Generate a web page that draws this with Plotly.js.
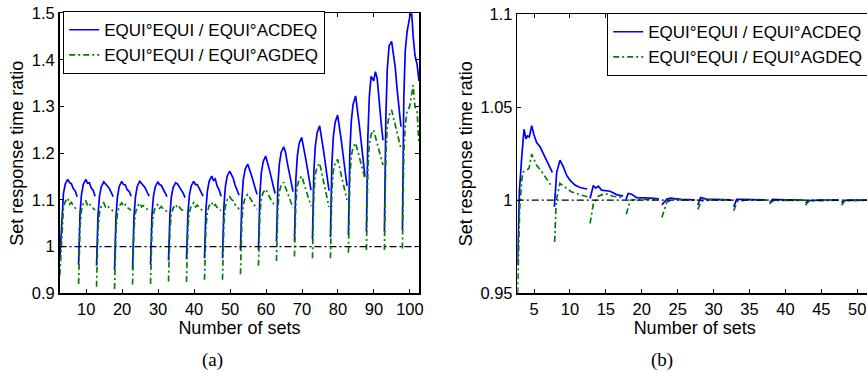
<!DOCTYPE html>
<html>
<head>
<meta charset="utf-8">
<script src="https://cdn.plot.ly/plotly-3.0.1.min.js"></script>
<style>
html,body{margin:0;padding:0;overflow:hidden;background:#fff;}
#chart{width:873px;height:373px;}
</style>
</head>
<body>
<div id="chart"></div>
<script>
// ---------- Panel (a): response time ratio vs number of sets ----------
const setsA = [
  2.7, 3.05, 3.3, 3.7, 4.2, 4.9, 5.4, 5.9, 6.4, 7.0, 7.5, null,
  7.9, 8.05, 8.3, 8.7, 9.2, 9.9, 10.4, 10.9, 11.4, 12.0, 12.5, null,
  12.9, 13.05, 13.3, 13.7, 14.2, 14.9, 15.4, 15.9, 16.4, 17.0, 17.5, null,
  17.9, 18.05, 18.3, 18.7, 19.2, 19.9, 20.4, 20.9, 21.4, 22.0, 22.5, null,
  22.9, 23.05, 23.3, 23.7, 24.2, 24.9, 25.4, 25.9, 26.4, 27.0, 27.5, null,
  27.9, 28.05, 28.3, 28.7, 29.2, 29.9, 30.4, 30.9, 31.4, 32.0, 32.5, null,
  32.9, 33.05, 33.3, 33.7, 34.2, 34.9, 35.4, 35.9, 36.4, 37.0, 37.5, null,
  37.9, 38.05, 38.3, 38.7, 39.2, 39.9, 40.4, 40.9, 41.4, 42.0, 42.5, null,
  42.9, 43.05, 43.3, 43.7, 44.2, 44.9, 45.4, 45.9, 46.4, 47.0, 47.5, null,
  47.9, 48.05, 48.3, 48.7, 49.2, 49.9, 50.4, 50.9, 51.4, 52.0, 52.5, null,
  52.9, 53.05, 53.3, 53.7, 54.2, 54.9, 55.4, 55.9, 56.4, 57.0, 57.5, null,
  57.9, 58.05, 58.3, 58.7, 59.2, 59.9, 60.4, 60.9, 61.4, 62.0, 62.5, null,
  62.9, 63.05, 63.3, 63.7, 64.2, 64.9, 65.4, 65.9, 66.4, 67.0, 67.5, null,
  67.9, 68.05, 68.3, 68.7, 69.2, 69.9, 70.4, 70.9, 71.4, 72.0, 72.5, null,
  72.9, 73.05, 73.3, 73.7, 74.2, 74.9, 75.4, 75.9, 76.4, 77.0, 77.5, null,
  77.9, 78.05, 78.3, 78.7, 79.2, 79.9, 80.4, 80.9, 81.4, 82.0, 82.5, null,
  82.9, 83.05, 83.3, 83.7, 84.2, 84.9, 85.4, 85.9, 86.4, 87.0, 87.5, null,
  87.9, 88.05, 88.3, 88.7, 89.2, 89.9, 90.4, 90.9, 91.4, 92.0, 92.5, null,
  92.9, 93.05, 93.3, 93.7, 94.2, 94.9, 95.4, 95.9, 96.4, 97.0, 97.5, null,
  97.9, 98.05, 98.3, 98.7, 99.2, 99.9, 100.4, 100.9, 101.4, 102.0, 102.5
];
const acdeqA = [
  0.975, 1.026, 1.076, 1.114, 1.134, 1.144, 1.137, 1.135, 1.125, 1.119, 1.107, null,
  0.961, 1.016, 1.071, 1.111, 1.133, 1.144, 1.136, 1.137, 1.126, 1.120, 1.108, null,
  0.959, 1.013, 1.067, 1.107, 1.128, 1.139, 1.134, 1.129, 1.125, 1.116, 1.107, null,
  0.950, 1.007, 1.064, 1.106, 1.129, 1.140, 1.133, 1.132, 1.122, 1.118, 1.108, null,
  0.951, 1.008, 1.064, 1.106, 1.129, 1.140, 1.135, 1.129, 1.126, 1.116, 1.108, null,
  0.961, 1.014, 1.068, 1.107, 1.128, 1.139, 1.133, 1.131, 1.123, 1.117, 1.107, null,
  0.970, 1.020, 1.070, 1.107, 1.127, 1.137, 1.134, 1.128, 1.122, 1.114, 1.105, null,
  0.973, 1.023, 1.073, 1.110, 1.130, 1.140, 1.133, 1.133, 1.124, 1.117, 1.108, null,
  0.975, 1.028, 1.081, 1.119, 1.140, 1.151, 1.142, 1.145, 1.130, 1.121, 1.108, null,
  0.975, 1.031, 1.087, 1.128, 1.151, 1.162, 1.155, 1.146, 1.132, 1.122, 1.110, null,
  0.993, 1.048, 1.103, 1.144, 1.166, 1.177, 1.167, 1.154, 1.141, 1.126, 1.112, null,
  0.993, 1.053, 1.114, 1.158, 1.182, 1.194, 1.182, 1.166, 1.150, 1.132, 1.114, null,
  1.011, 1.072, 1.133, 1.177, 1.202, 1.214, 1.203, 1.180, 1.161, 1.139, 1.118, null,
  1.011, 1.078, 1.145, 1.194, 1.221, 1.234, 1.217, 1.194, 1.172, 1.146, 1.121, null,
  1.016, 1.089, 1.162, 1.215, 1.244, 1.259, 1.238, 1.210, 1.183, 1.151, 1.120, null,
  1.020, 1.099, 1.177, 1.235, 1.266, 1.282, 1.259, 1.229, 1.198, 1.163, 1.130, null,
  1.025, 1.114, 1.204, 1.269, 1.305, 1.323, 1.297, 1.262, 1.228, 1.188, 1.150, null,
  1.032, 1.135, 1.235, 1.320, 1.365, 1.355, 1.375, 1.360, 1.310, 1.265, 1.228, null,
  1.032, 1.155, 1.275, 1.380, 1.430, 1.440, 1.410, 1.385, 1.340, 1.290, 1.257, null,
  1.036, 1.180, 1.320, 1.420, 1.460, 1.490, 1.510, 1.450, 1.410, 1.390, 1.355
];
const agdeqA = [
  0.939, 0.997, 1.051, 1.084, 1.097, 1.104, 1.091, 1.095, 1.088, 1.083, 1.078, null,
  0.920, 0.983, 1.042, 1.078, 1.092, 1.099, 1.088, 1.092, 1.086, 1.082, 1.078, null,
  0.914, 0.977, 1.036, 1.072, 1.087, 1.094, 1.085, 1.088, 1.083, 1.080, 1.076, null,
  0.909, 0.974, 1.035, 1.072, 1.087, 1.094, 1.086, 1.090, 1.084, 1.081, 1.078, null,
  0.919, 0.980, 1.037, 1.072, 1.086, 1.093, 1.085, 1.088, 1.083, 1.080, 1.076, null,
  0.920, 0.980, 1.036, 1.070, 1.083, 1.090, 1.082, 1.086, 1.081, 1.078, 1.075, null,
  0.925, 0.983, 1.037, 1.070, 1.083, 1.090, 1.082, 1.085, 1.080, 1.077, 1.074, null,
  0.924, 0.984, 1.040, 1.074, 1.087, 1.094, 1.085, 1.089, 1.083, 1.080, 1.076, null,
  0.929, 0.987, 1.042, 1.075, 1.088, 1.095, 1.086, 1.090, 1.084, 1.080, 1.077, null,
  0.929, 0.991, 1.050, 1.086, 1.100, 1.107, 1.101, 1.098, 1.090, 1.086, 1.080, null,
  0.941, 1.001, 1.057, 1.091, 1.105, 1.112, 1.106, 1.099, 1.093, 1.086, 1.080, null,
  0.959, 1.016, 1.071, 1.103, 1.116, 1.123, 1.115, 1.108, 1.100, 1.093, 1.085, null,
  0.969, 1.028, 1.084, 1.118, 1.131, 1.138, 1.127, 1.116, 1.105, 1.094, 1.083, null,
  0.979, 1.039, 1.096, 1.130, 1.144, 1.151, 1.138, 1.125, 1.113, 1.100, 1.087, null,
  0.975, 1.046, 1.114, 1.155, 1.171, 1.179, 1.160, 1.141, 1.123, 1.104, 1.085, null,
  0.975, 1.049, 1.119, 1.162, 1.179, 1.187, 1.170, 1.152, 1.135, 1.117, 1.100, null,
  0.987, 1.069, 1.147, 1.194, 1.213, 1.222, 1.207, 1.192, 1.176, 1.161, 1.146, null,
  0.993, 1.083, 1.168, 1.219, 1.240, 1.250, 1.235, 1.220, 1.205, 1.190, 1.175, null,
  0.993, 1.098, 1.197, 1.257, 1.281, 1.293, 1.276, 1.260, 1.243, 1.227, 1.210, null,
  0.996, 1.100, 1.200, 1.260, 1.290, 1.300, 1.320, 1.346, 1.300, 1.290, 1.220
];
const refXA = [2.6, 102.6];
const refYA = [1, 1];

// ---------- Panel (b) ----------
const setsB1 = [
  2.7, 2.97, 3.29, 3.61, 3.89, 4.1, 4.35, 4.68, 5.0, 5.37, 5.84, 6.3, 6.77, 7.23, 7.55, null,
  7.83, 8.16, 8.62, 9.08, 9.55, 10.0, 10.7, 11.4, 12.4, null,
  12.8, 13.26, 13.6, 13.96, 14.4, 15.6, 16.5, 17.4, null,
  17.8, 18.1, 18.6, 19.3, 21.2, 22.4, null,
  22.8, 23.5, 24.0, 25.5, 27.4, null,
  27.8, 28.2, 29.0, 31.0, 32.4, null,
  32.8, 33.2, 34.0, 36.0, 37.4, null,
  37.8, 38.2, 40.0, 42.4, null,
  42.8, 43.2, 45.0, 47.4, null,
  47.8, 48.2, 50.0, 52.0
];
const acdeqB = [
  0.965, 1.005, 1.023, 1.038, 1.033, 1.0345, 1.034, 1.040, 1.035, 1.031, 1.0287, 1.025, 1.0204, 1.0168, 1.015, null,
  0.9964, 1.015, 1.0215, 1.0179, 1.0133, 1.0108, 1.0081, 1.0068, 1.006, null,
  1.0009, 1.0079, 1.0065, 1.0075, 1.0054, 1.0048, 1.003, 1.0022, null,
  1.0004, 1.0036, 1.0032, 1.0014, 1.0011, 1.0007, null,
  0.9975, 1.0007, 1.0011, 1.0004, 1.0002, null,
  0.9973, 1.0014, 1.0006, 1.0003, 1.0002, null,
  0.9964, 1.0004, 1.0004, 1.0002, 1.0001, null,
  0.9986, 1.0004, 1.0002, 1.0001, null,
  0.9986, 0.9998, 1.0001, 1.0001, null,
  0.9986, 0.9999, 1.0000, 1.0000
];
const setsB2 = [
  2.72, 3.0, 3.3, 3.5, 3.9, 4.3, 4.68, 5.0, 5.37, 6.1, 6.77, 7.5, null,
  7.87, 8.1, 8.6, 9.3, 10.2, 11.6, 12.5, null,
  12.8, 13.26, 13.96, 14.9, 16.0, 17.4, null,
  17.85, 18.4, 19.3, 22.4, null,
  22.8, 23.5, 24.4, 27.4, null,
  27.8, 28.3, 29.5, 32.4, null,
  32.8, 33.3, 34.5, 37.4, null,
  37.8, 38.3, 42.4, null,
  42.8, 43.3, 47.4, null,
  47.8, 48.3, 52.0
];
const agdeqB = [
  0.950, 0.995, 1.0108, 1.0152, 1.016, 1.017, 1.0247, 1.0215, 1.0188, 1.0152, 1.0111, 1.0072, null,
  0.9776, 1.000, 1.009, 1.0072, 1.0045, 1.0027, 1.0018, null,
  0.9875, 0.998, 1.0021, 1.0036, 1.0021, 1.0014, null,
  0.9925, 1.000, 1.0004, 1.0004, null,
  0.9907, 0.9991, 1.0004, 1.000, null,
  0.995, 0.9995, 1.0002, 1.000, null,
  0.9943, 0.9993, 1.0001, 1.000, null,
  0.998, 0.9998, 1.000, null,
  0.9973, 0.9996, 1.000, null,
  0.9973, 0.9997, 1.000
];
const refXB = [2.6, 52.1];
const refYB = [1, 1];

const nameC = 'EQUI°EQUI / EQUI°ACDEQ';
const nameG = 'EQUI°EQUI / EQUI°AGDEQ';
const panelLabels = ['(a)', '(b)'];
const xTitle = 'Number of sets';
const yTitle = 'Set response time ratio';

// ---------- styling ----------
const W = 873, H = 373;
const FONT = 'Liberation Sans, Arial, Helvetica, sans-serif';
const SERIF = 'Liberation Serif, Times New Roman, serif';
const blue = '#0000ff', green = '#008000';
const greenDash = '6px,3px,2px,3px';
const blackDash = '7px,3px,2px,3px';

const traces = [
  {x: setsA, y: acdeqA, xaxis: 'x', yaxis: 'y', mode: 'lines', name: nameC,
   line: {color: blue, width: 1.7}, legend: 'legend'},
  {x: setsA, y: agdeqA, xaxis: 'x', yaxis: 'y', mode: 'lines', name: nameG,
   line: {color: green, width: 1.7, dash: greenDash}, legend: 'legend'},
  {x: refXA, y: refYA, xaxis: 'x', yaxis: 'y', mode: 'lines', showlegend: false,
   line: {color: '#000', width: 1.2, dash: blackDash}},
  {x: setsB1, y: acdeqB, xaxis: 'x2', yaxis: 'y2', mode: 'lines', name: nameC,
   line: {color: blue, width: 1.7}, legend: 'legend2'},
  {x: setsB2, y: agdeqB, xaxis: 'x2', yaxis: 'y2', mode: 'lines', name: nameG,
   line: {color: green, width: 1.7, dash: greenDash}, legend: 'legend2'},
  {x: refXB, y: refYB, xaxis: 'x2', yaxis: 'y2', mode: 'lines', showlegend: false,
   line: {color: '#000', width: 1.2, dash: blackDash}}
];

const axisCommon = {
  showline: true, linecolor: '#000', linewidth: 1.5,
  ticks: 'inside', ticklen: 4, tickwidth: 1, tickcolor: '#000',
  showgrid: false, zeroline: false,
  tickfont: {family: FONT, size: 16.5, color: '#000'}
};
const titleFont = {family: FONT, size: 18, color: '#000'};

const layout = {
  width: W, height: H,
  margin: {l: 0, r: 0, t: 0, b: 0, autoexpand: false},
  paper_bgcolor: '#fff', plot_bgcolor: '#fff',
  font: {family: FONT, color: '#000'},
  xaxis: Object.assign({}, axisCommon, {
    domain: [59.5 / W, 419.3 / W], range: [2.6, 102.6], anchor: 'y',
    tick0: 0, dtick: 10, mirror: 'ticks',
    title: {text: xTitle, font: titleFont, standoff: 1}
  }),
  yaxis: Object.assign({}, axisCommon, {
    domain: [(H - 293.3) / H, (H - 13.3) / H], range: [0.9, 1.5], anchor: 'x',
    tick0: 0, dtick: 0.1, mirror: 'ticks',
    title: {text: yTitle, font: titleFont, standoff: 3}
  }),
  xaxis2: Object.assign({}, axisCommon, {
    domain: [517.3 / W, 872 / W], range: [2.675, 52.05], anchor: 'y2',
    tick0: 0, dtick: 5, mirror: 'ticks',
    title: {text: xTitle, font: titleFont, standoff: 1}
  }),
  yaxis2: Object.assign({}, axisCommon, {
    domain: [(H - 293.3) / H, (H - 14) / H], range: [0.95, 1.1], anchor: 'x2',
    tick0: 0, dtick: 0.05, mirror: 'ticks',
    title: {text: yTitle, font: titleFont, standoff: 3}
  }),
  legend: {
    x: 63 / W, y: (H - 11) / H, xanchor: 'left', yanchor: 'top',
    bgcolor: '#fff', bordercolor: '#000', borderwidth: 1.2,
    font: {family: FONT, size: 17, color: '#000'}, tracegroupgap: 0
  },
  legend2: {
    x: 607 / W, y: (H - 13) / H, xanchor: 'left', yanchor: 'top',
    bgcolor: '#fff', bordercolor: '#000', borderwidth: 1.2,
    font: {family: FONT, size: 17, color: '#000'}, tracegroupgap: 0
  },
  showlegend: true,
  annotations: [
    {text: panelLabels[0], xref: 'paper', yref: 'paper', x: 212 / W, y: (H - 360) / H,
     xanchor: 'center', yanchor: 'middle', showarrow: false,
     font: {family: SERIF, size: 19, color: '#000'}},
    {text: panelLabels[1], xref: 'paper', yref: 'paper', x: 662 / W, y: (H - 360) / H,
     xanchor: 'center', yanchor: 'middle', showarrow: false,
     font: {family: SERIF, size: 19, color: '#000'}}
  ]
};

Plotly.newPlot('chart', traces, layout, {staticPlot: true, displayModeBar: false});
</script>
</body>
</html>
